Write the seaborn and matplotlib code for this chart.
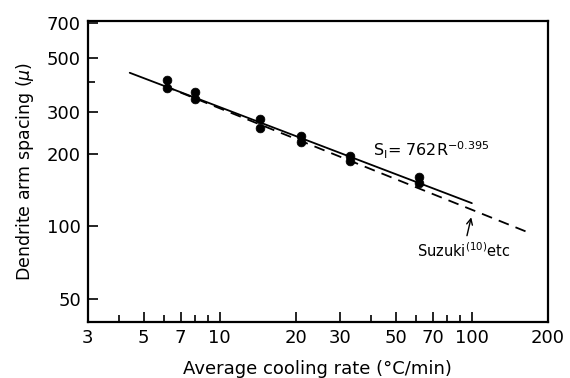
import numpy as np
import pandas as pd
import matplotlib
matplotlib.use("Agg")
import matplotlib.pyplot as plt
import seaborn as sns

sns.set_style("ticks")
plt.rcParams['font.family'] = ['DejaVu Sans']
plt.rcParams.update({"axes.edgecolor": "black", "xtick.color": "black",
                     "ytick.color": "black", "text.color": "black",
                     "axes.labelcolor": "black"})

# measured points (cooling rate, arm spacing), two per rate
rate = [6.2, 6.2, 8.0, 8.0, 14.4, 14.4, 21.0, 21.0, 33.0, 33.0, 61.5, 61.5]
spacing = [405, 378, 361, 340, 279, 258, 237, 225, 197, 188, 160, 151]

# fitted line S = 762 R^-0.395 (end points)
fit_x = [4.4, 100]
fit_y = [436, 125]

# Suzuki et al. line (end points)
suzuki_x = [6.0, 165]
suzuki_y = [385, 95]

x_ticks = [3, 5, 7, 10, 20, 30, 50, 70, 100, 200]
x_minor = [4, 6, 8, 9, 40, 60, 80, 90]
y_ticks = [50, 100, 200, 300, 500, 700]
y_minor = [400]

pts = pd.DataFrame({"rate": rate, "spacing": spacing})
fit = pd.DataFrame({"rate": fit_x, "spacing": fit_y})
suz = pd.DataFrame({"rate": suzuki_x, "spacing": suzuki_y})

fig = plt.figure(figsize=(5.7, 3.78), dpi=100)
ax = fig.add_axes([0.154, 0.148, 0.807, 0.796])

sns.lineplot(data=fit, x="rate", y="spacing", ax=ax, color="black", lw=1.3)
sns.lineplot(data=suz, x="rate", y="spacing", ax=ax, color="black", lw=1.3,
             linestyle=(0, (6, 4)))
sns.scatterplot(data=pts, x="rate", y="spacing", ax=ax, color="black",
                s=40, edgecolor="black", zorder=5)

ax.set_xscale("log")
ax.set_yscale("log")
ax.set_xlim(3, 200)
ax.set_ylim(40, 715)

ax.set_xticks(x_ticks)
ax.set_xticklabels([str(t) for t in x_ticks])
ax.set_xticks(x_minor, minor=True)
ax.set_xticklabels([], minor=True)
ax.set_yticks(y_ticks)
ax.set_yticklabels([str(t) for t in y_ticks])
ax.set_yticks(y_minor, minor=True)
ax.set_yticklabels([], minor=True)

ax.tick_params(which="major", direction="in", length=7, width=1.2,
               labelsize=13, pad=5)
ax.tick_params(which="minor", direction="in", length=5, width=1.2)
for s in ax.spines.values():
    s.set_linewidth(1.6)

ax.set_xlabel("Average cooling rate (°C/min)", fontsize=13, labelpad=9)
ax.set_ylabel("Dendrite arm spacing ($\\mu$)", fontsize=12.5, labelpad=8)

ax.text(0.62, 0.55, r"S$_{\rm I}$= 762R$^{-0.395}$", transform=ax.transAxes,
        fontsize=11.5)
ax.annotate(r"Suzuki$^{(10)}$etc", xy=(100, 112), xytext=(0.715, 0.215),
            textcoords="axes fraction", fontsize=10.5,
            arrowprops=dict(arrowstyle="->", color="black", lw=1.0))

fig.savefig("out.png", dpi=100)
